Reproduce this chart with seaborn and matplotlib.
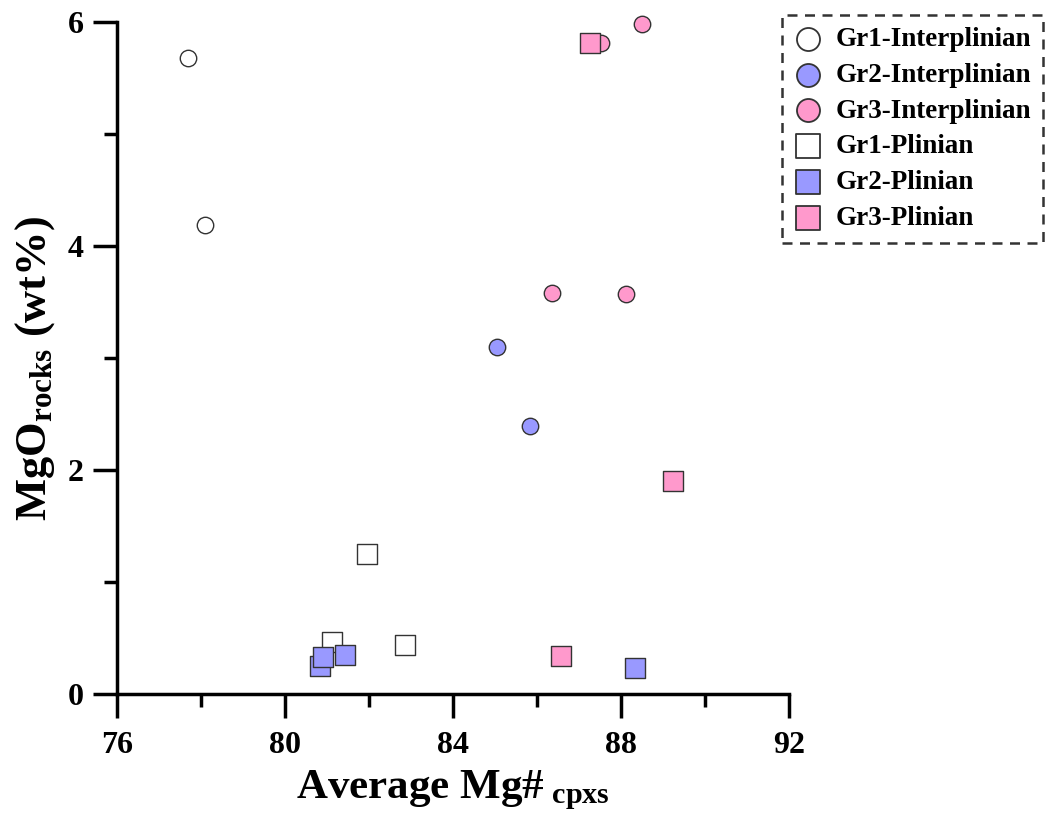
import matplotlib
matplotlib.use("Agg")
import matplotlib.pyplot as plt
import seaborn as sns
from matplotlib.ticker import MultipleLocator

# ---- data ----
gr1_int_x = [77.70, 78.10]
gr1_int_y = [5.68, 4.19]
gr2_int_x = [85.05, 85.82]
gr2_int_y = [3.10, 2.39]
gr3_int_x = [87.52, 88.49, 86.36, 88.12]
gr3_int_y = [5.81, 5.98, 3.58, 3.57]
gr1_pl_x = [81.95, 81.12, 82.85]
gr1_pl_y = [1.25, 0.46, 0.44]
gr2_pl_x = [80.82, 80.90, 81.42, 88.33]
gr2_pl_y = [0.25, 0.33, 0.35, 0.23]
gr3_pl_x = [87.27, 89.24, 86.57]
gr3_pl_y = [5.81, 1.90, 0.34]

series_labels = ["Gr1-Interplinian", "Gr2-Interplinian", "Gr3-Interplinian",
                 "Gr1-Plinian", "Gr2-Plinian", "Gr3-Plinian"]
x_ticks = [76, 80, 84, 88, 92]
y_ticks = [0, 2, 4, 6]

sns.set_style("ticks")
plt.rcParams["font.family"] = ["Liberation Serif", "DejaVu Serif"]
plt.rcParams["font.weight"] = "bold"
plt.rcParams["text.color"] = "black"
plt.rcParams["axes.labelcolor"] = "black"
plt.rcParams["xtick.color"] = "black"
plt.rcParams["ytick.color"] = "black"
plt.rcParams["mathtext.fontset"] = "custom"
plt.rcParams["mathtext.rm"] = "Liberation Serif:bold"
plt.rcParams["mathtext.bf"] = "Liberation Serif:bold"
plt.rcParams["mathtext.it"] = "Liberation Serif:bold"

fig = plt.figure(figsize=(10.46, 8.17), dpi=100)
ax = fig.add_axes([0.1119, 0.1506, 0.6425, 0.8225])

white = "#FFFFFF"
blue = "#9999FF"
pink = "#FF99CC"
edge = "#333333"

series = [
    (gr1_int_x, gr1_int_y, white, "o", 140),
    (gr2_int_x, gr2_int_y, blue, "o", 140),
    (gr3_int_x, gr3_int_y, pink, "o", 140),
    (gr1_pl_x, gr1_pl_y, white, "s", 190),
    (gr2_pl_x, gr2_pl_y, blue, "s", 190),
    (gr3_pl_x, gr3_pl_y, pink, "s", 190),
]
for (xs, ys, col, mk, size), lab in zip(series, series_labels):
    sns.scatterplot(x=xs, y=ys, ax=ax, color=col, marker=mk, s=size,
                    edgecolor=edge, linewidth=1.0, label=lab, legend=False,
                    clip_on=False, zorder=3)

ax.set_xlim(76, 92)
ax.set_ylim(0, 6)
ax.set_xticks(x_ticks)
ax.set_yticks(y_ticks)
ax.xaxis.set_minor_locator(MultipleLocator(2))
ax.yaxis.set_minor_locator(MultipleLocator(1))

for s in ["top", "right"]:
    ax.spines[s].set_visible(False)
for s in ["left", "bottom"]:
    ax.spines[s].set_linewidth(2.5)
    ax.spines[s].set_color("black")

ax.tick_params(which="major", direction="out", length=17, width=2.5,
               labelsize=23, colors="black")
ax.tick_params(axis="x", which="major", pad=10)
ax.tick_params(axis="y", which="major", pad=7)
ax.tick_params(which="minor", direction="out", length=9.5, width=2.5)
for t in ax.get_xticklabels() + ax.get_yticklabels():
    t.set_fontweight("bold")

ax.set_xlabel(r"Average Mg#$_{\ \mathbf{cpxs}}$", fontsize=31,
              fontweight="bold", labelpad=6)
ax.set_ylabel(r"MgO$_{\mathbf{rocks}}$ (wt%)", fontsize=32,
              fontweight="bold")
ax.yaxis.set_label_coords(-0.09, 0.484)

leg = ax.legend(loc="upper right", bbox_to_anchor=(0.997, 0.982),
                bbox_transform=fig.transFigure, frameon=True, fancybox=False,
                prop={"family": "Liberation Serif", "weight": "bold", "size": 19.5},
                labelspacing=0.4, handletextpad=0.5, borderpad=0.45,
                handlelength=1.0, borderaxespad=0)
legend_sizes = [275, 275, 275, 300, 300, 300]
for h, sz in zip(leg.legend_handles, legend_sizes):
    h.set_sizes([sz])
    h.set_linewidth(1.3)
frame = leg.get_frame()
frame.set_linestyle((0, (4, 3)))
frame.set_edgecolor("black")
frame.set_linewidth(1.8)

fig.savefig("out.png", dpi=100)
